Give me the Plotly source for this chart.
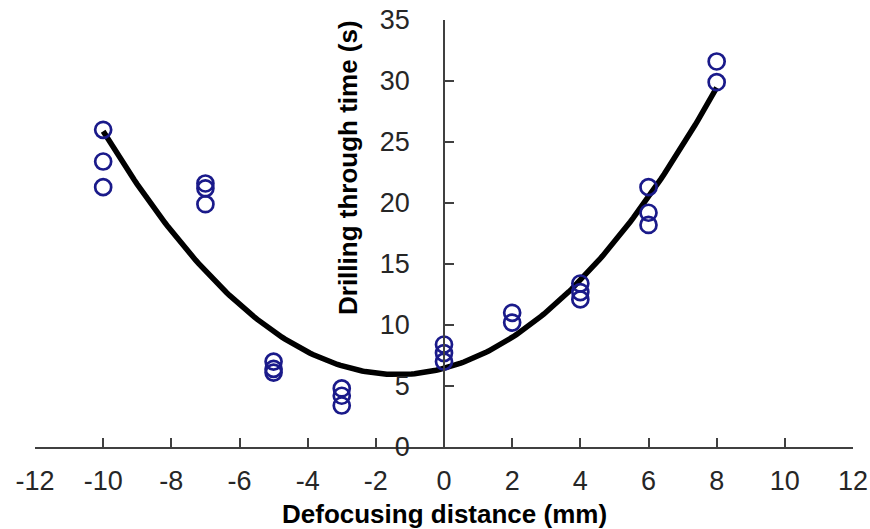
import numpy as np
import plotly.graph_objects as go

# Measured data (defocusing distance in mm, drilling-through time in s)
x_vals = [-10, -10, -10, -7, -7, -7, -5, -5, -5, -3, -3, -3,
          0, 0, 0, 2, 2, 4, 4, 4, 6, 6, 6, 8, 8]
y_vals = [26.0, 23.4, 21.3, 21.6, 21.2, 19.9, 7.0, 6.4, 6.1, 4.8, 4.2, 3.4,
          8.4, 7.7, 7.0, 11.0, 10.2, 13.4, 12.7, 12.1, 21.3, 19.2, 18.2, 31.6, 29.9]

x_ticks = [-12, -10, -8, -6, -4, -2, 0, 2, 4, 6, 8, 10, 12]
y_ticks = [0, 5, 10, 15, 20, 25, 30, 35]

# Quadratic trendline fitted to the data
coef = np.polyfit(x_vals, y_vals, 2)
xf = np.linspace(min(x_vals), max(x_vals), 200)
yf = np.polyval(coef, xf)

W, H = 870, 529
ML, MR, MT, MB = 35, 17, 20, 82

fig = go.Figure()
fig.add_trace(go.Scatter(x=xf, y=yf, mode="lines",
                         line=dict(color="black", width=5.5), hoverinfo="skip",
                         showlegend=False))
fig.add_trace(go.Scatter(x=x_vals, y=y_vals, mode="markers",
                         marker=dict(symbol="circle-open", size=16,
                                     color="#1a1a8a", line=dict(width=2.7, color="#1a1a8a")),
                         showlegend=False))

axis_font = dict(family="Liberation Sans, Arial, sans-serif", size=27, color="#262626")

fig.update_layout(
    width=W, height=H,
    margin=dict(l=ML, r=MR, t=MT, b=MB, autoexpand=False),
    paper_bgcolor="white", plot_bgcolor="white",
    xaxis=dict(range=[-12, 12], tickvals=x_ticks, ticktext=[str(v) for v in x_ticks],
               showgrid=False, zeroline=False, showline=True, linecolor="#404040",
               linewidth=1.5, ticks="inside", ticklen=9, tickwidth=1.5, tickcolor="#404040",
               tickfont=axis_font, ticklabelstandoff=9, automargin=False),
    yaxis=dict(range=[0, 35], tickvals=y_ticks, ticktext=[str(v) for v in y_ticks],
               showgrid=False, zeroline=False, showline=True, linecolor="#404040",
               linewidth=1.5, ticks="inside", ticklen=9, tickwidth=1.5, tickcolor="#404040",
               tickfont=axis_font, anchor="free", position=0.5, ticklabelstandoff=28,
               automargin=False),
    annotations=[
        dict(text="<b>Defocusing distance (mm)</b>", xref="paper", yref="paper",
             x=0.5, y=-(514 - (H - MB)) / (H - MT - MB), xanchor="center", yanchor="middle",
             showarrow=False, font=dict(family="Liberation Sans, Arial, sans-serif", size=26, color="black")),
        dict(text="<b>Drilling through time (s)</b>", xref="paper", yref="paper",
             x=(348 - ML) / (W - ML - MR), y=(H - MB - 168) / (H - MT - MB),
             xanchor="center", yanchor="middle", textangle=-90,
             showarrow=False, font=dict(family="Liberation Sans, Arial, sans-serif", size=26, color="black")),
    ],
)

fig.write_html("out.html", config={"displayModeBar": False},
               post_script="document.body.style.margin='0px';document.body.style.overflow='hidden';")
